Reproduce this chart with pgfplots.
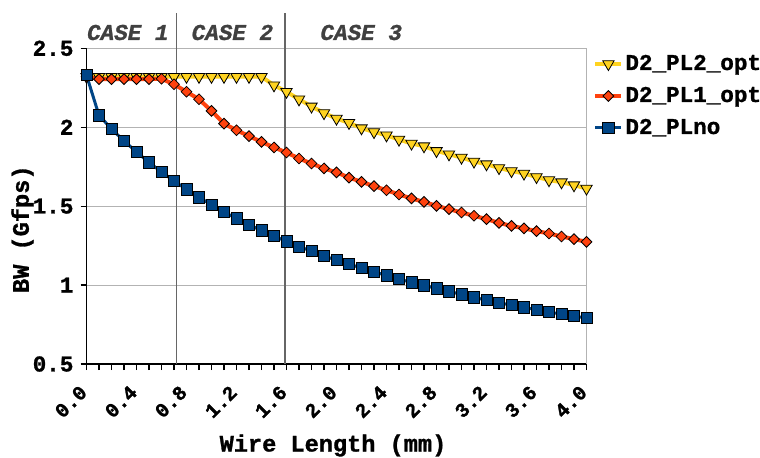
\documentclass[border=0pt]{standalone}
\usepackage{pgfplots}
\pgfplotsset{compat=1.18}
\usepackage{fontspec}
\setmainfont{Liberation Mono}[BoldFeatures={FakeBold=1.2}, BoldItalicFeatures={FakeBold=1.2}]
\definecolor{cy}{HTML}{FFD320}
\definecolor{cr}{HTML}{FF420E}
\definecolor{cb}{HTML}{004586}
\definecolor{gridc}{HTML}{B3B3B3}
\definecolor{casec}{HTML}{404040}
\definecolor{vline}{HTML}{666666}
\begin{document}
\begin{tikzpicture}
\useasboundingbox (0,0) rectangle (380pt,-228.5pt);
\begin{axis}[
  at={(43.25pt,-182pt)}, anchor=south west,
  scale only axis, width=250pt, height=157.85pt,
  xmin=0, xmax=4, ymin=0.5, ymax=2.5,
  clip=false,
  axis lines*=left,
  axis line style={black, line width=0.9pt, -},
  ytick={0.5,1,1.5,2,2.5},
  xtick={0,0.4,0.8,1.2,1.6,2.0,2.4,2.8,3.2,3.6,4.0},
  minor x tick num=3,
  tick align=outside,
  major tick length=3pt, minor tick length=3pt,
  every tick/.style={black, line width=0.6pt},
  ymajorgrids, major grid style={gridc, line width=0.5pt},
  /pgf/number format/assume math mode=true,
  y tick label style={font=\bfseries\fontsize{11.3}{13}\selectfont},
  x tick label style={font=\bfseries\fontsize{10}{12}\selectfont, xshift=1pt, yshift=-7pt, rotate=45, anchor=east, /pgf/number format/.cd, fixed, fixed zerofill, precision=1},
  xlabel={Wire Length (mm)},
  ylabel={BW (Gfps)},
  label style={font=\bfseries\fontsize{11.8}{13}\selectfont},
  xlabel style={at={(axis description cs:0.493,-0.258)}, anchor=center},
  ylabel style={at={(axis description cs:-0.128,0.427)}, anchor=center},
  legend cell align=left,
  legend style={at={(axis description cs:1.001,0.849)}, anchor=west, draw=none, fill=none,
    font=\bfseries\fontsize{11.3}{13}\selectfont, row sep=4pt,
    nodes={inner sep=1pt, text height=8pt, text depth=2pt}},
  legend image code/.code={\draw[mark repeat=2,mark phase=2,#1] plot coordinates {(0pt,0pt) (6.5pt,0pt) (13pt,0pt)};},
]
\draw[gridc, line width=0.6pt] (rel axis cs:0,1) -- (rel axis cs:1,1) -- (rel axis cs:1,0);
\draw[vline, line width=0.6pt] (axis cs:0.72,0.5) -- (axis cs:0.72,2.726);
\draw[vline, line width=0.6pt] (axis cs:1.588,0.5) -- (axis cs:1.588,2.726);

\addplot[color=cy, line width=2pt, mark=triangle*, mark size=3.3pt,
  mark options={rotate=180, fill=cy, draw=black, line width=0.4pt}] table {
x y
0.0 2.32
0.1 2.32
0.2 2.32
0.3 2.32
0.4 2.32
0.5 2.32
0.6 2.32
0.7 2.32
0.8 2.32
0.9 2.32
1.0 2.32
1.1 2.32
1.2 2.32
1.3 2.32
1.4 2.32
1.5 2.266
1.6 2.225
1.7 2.177
1.8 2.132
1.9 2.09
2.0 2.055
2.1 2.028
2.2 1.994
2.3 1.970
2.4 1.949
2.5 1.922
2.6 1.897
2.7 1.880
2.8 1.850
2.9 1.829
3.0 1.808
3.1 1.783
3.2 1.766
3.3 1.742
3.4 1.723
3.5 1.707
3.6 1.685
3.7 1.665
3.8 1.652
3.9 1.633
4.0 1.612
};
\addlegendentry{D2\_PL2\_opt}

\addplot[color=cr, line width=2pt, mark=square*, mark size=1.9pt,
  mark options={rotate=45, fill=cr, draw=black, line width=0.4pt}] table {
x y
0.0 2.32
0.1 2.305
0.2 2.305
0.3 2.305
0.4 2.305
0.5 2.305
0.6 2.307
0.7 2.272
0.8 2.225
0.9 2.177
1.0 2.104
1.1 2.023
1.2 1.981
1.3 1.944
1.4 1.907
1.5 1.872
1.6 1.840
1.7 1.802
1.8 1.770
1.9 1.739
2.0 1.714
2.1 1.681
2.2 1.654
2.3 1.627
2.4 1.601
2.5 1.574
2.6 1.549
2.7 1.527
2.8 1.502
2.9 1.481
3.0 1.460
3.1 1.439
3.2 1.418
3.3 1.394
3.4 1.375
3.5 1.359
3.6 1.342
3.7 1.327
3.8 1.308
3.9 1.291
4.0 1.274
};
\addlegendentry{D2\_PL1\_opt}

\addplot[color=cb, line width=1.5pt, mark=square*, mark size=2.8pt,
  mark options={fill=cb, draw=black, line width=0.4pt}] table {
x y
0.0 2.33
0.1 2.075
0.2 1.99
0.3 1.913
0.4 1.844
0.5 1.777
0.6 1.717
0.7 1.66
0.8 1.606
0.9 1.555
1.0 1.51
1.1 1.463
1.2 1.422
1.3 1.382
1.4 1.346
1.5 1.31
1.6 1.277
1.7 1.244
1.8 1.215
1.9 1.185
2.0 1.158
2.1 1.133
2.2 1.108
2.3 1.084
2.4 1.061
2.5 1.038
2.6 1.017
2.7 0.998
2.8 0.979
2.9 0.960
3.0 0.941
3.1 0.922
3.2 0.905
3.3 0.888
3.4 0.873
3.5 0.859
3.6 0.844
3.7 0.829
3.8 0.816
3.9 0.804
4.0 0.791
};
\addlegendentry{D2\_PLno}
\end{axis}
\node[font=\bfseries\itshape\fontsize{11.3}{13}\selectfont, text=casec] at (63.9pt,-16.25pt) {CASE 1};
\node[font=\bfseries\itshape\fontsize{11.3}{13}\selectfont, text=casec] at (116.2pt,-16.25pt) {CASE 2};
\node[font=\bfseries\itshape\fontsize{11.3}{13}\selectfont, text=casec] at (180.6pt,-16.25pt) {CASE 3};
\end{tikzpicture}
\end{document}
